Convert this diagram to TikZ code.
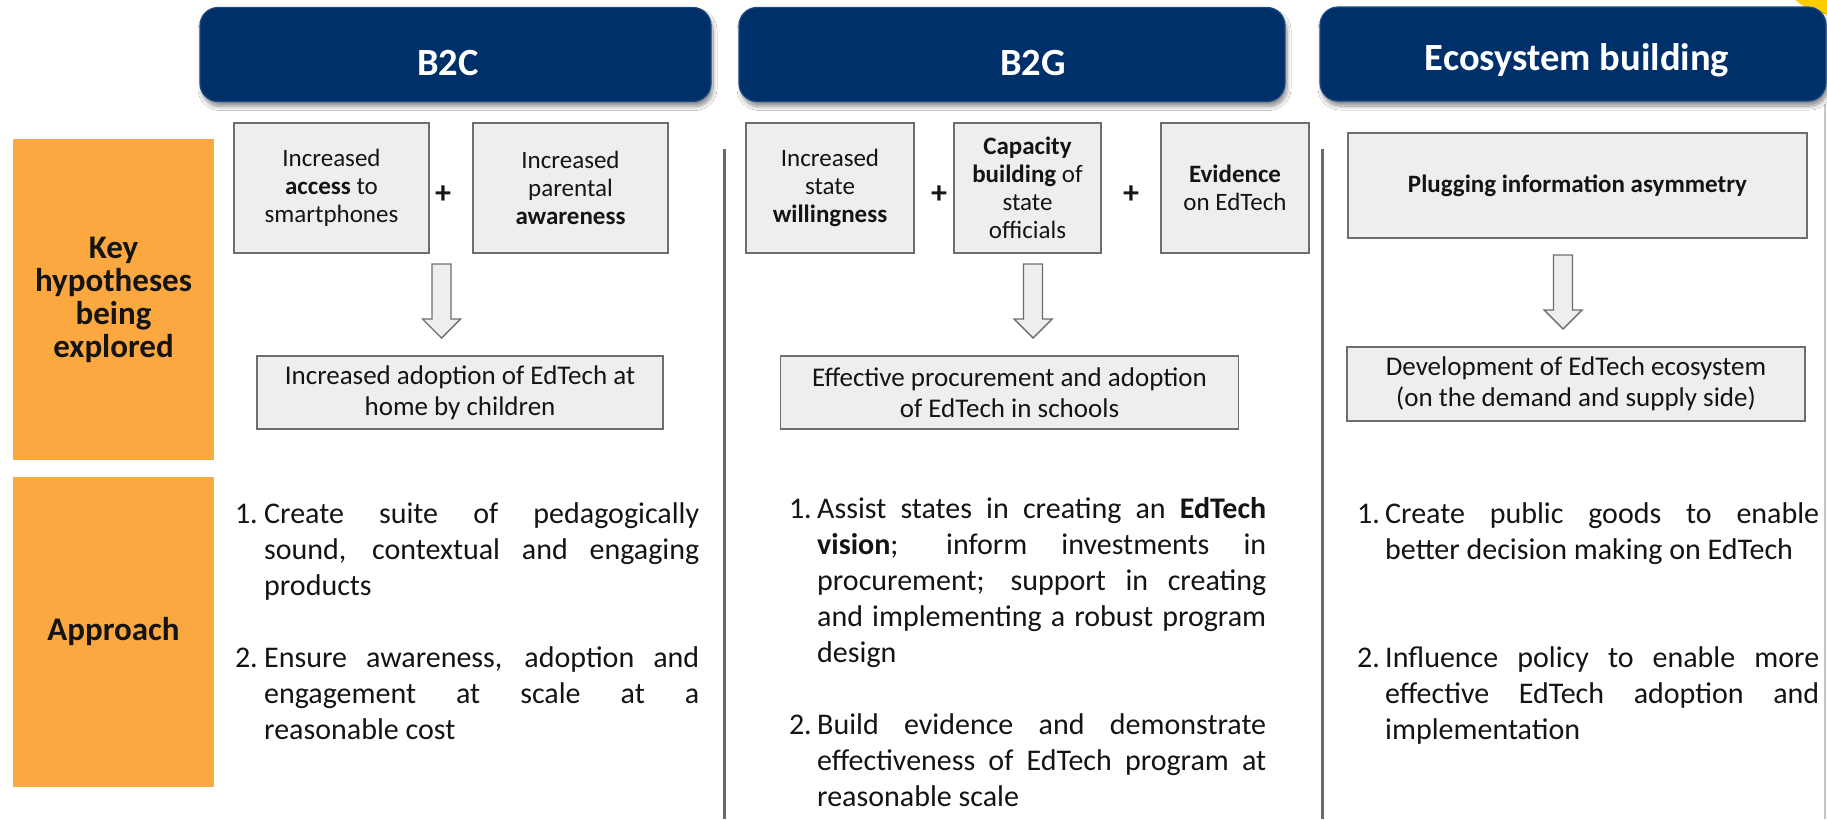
\documentclass[tikz,border=0pt]{standalone}
\usepackage{fontspec}
\setmainfont{Carlito}
\usetikzlibrary{shadows.blur}

\definecolor{navy}{HTML}{003069}
\definecolor{navyedge}{HTML}{1B4A85}
\definecolor{orangebg}{HTML}{FCA841}
\definecolor{boxgrey}{HTML}{EEEEEE}
\definecolor{boxline}{HTML}{6E6E6E}
\definecolor{divgrey}{HTML}{6A6A6A}
\definecolor{edgegrey}{HTML}{C4C4C4}
\definecolor{sunyellow}{HTML}{FFCD00}
\definecolor{ink}{HTML}{141414}

\begin{document}
\begin{tikzpicture}[
  x=1pt, y=-1pt,
  every node/.style={text=ink},
  header/.style={fill=navy, draw=navyedge, line width=1.2pt, rounded corners=18pt,
    inner sep=0pt, minimum height=94pt,
    blur shadow={shadow xshift=2pt, shadow yshift=-5pt, shadow blur radius=4pt,
      shadow blur steps=8, shadow opacity=45}},
  title/.style={text=white, inner sep=0pt, anchor=base,
    font=\fontsize{38.5}{44}\bfseries\selectfont},
  sidelabel/.style={fill=orangebg, inner sep=0pt, minimum width=201pt, align=center,
    font=\fontsize{33}{33}\bfseries\selectfont},
  hypbox/.style={fill=boxgrey, draw=boxline, line width=1.5pt, inner sep=0pt,
    align=center, minimum height=130pt, font=\fontsize{25}{28}\selectfont},
  outbox/.style={hypbox, minimum height=73pt, font=\fontsize{27}{31}\selectfont},
  plussign/.style={inner sep=0pt, font=\fontsize{32}{32}\bfseries\selectfont},
  listtext/.style={inner sep=0pt, anchor=base west, align=justify,
    font=\fontsize{30}{36}\selectfont},
  listnum/.style={inner sep=0pt, anchor=base east, font=\fontsize{30}{36}\selectfont},
  divider/.style={draw=divgrey, line width=3pt},
  arrowline/.style={draw=boxline, fill=boxgrey, line width=1.4pt, line join=miter},
  blockdown/.pic={
    \path[arrowline] (-9.5,0) -- (-9.5,55) -- (-19,55) -- (0,74) -- (19,55)
      -- (9.5,55) -- (9.5,0) -- cycle;
  }
]
\useasboundingbox (0,0) rectangle (1827,819);
\fill[white] (0,0) rectangle (1827,819);

% corner accent behind the last header
\fill[sunyellow] (1835,-45) circle[radius=60pt];

% thin frame line on the right edge
\coordinate (edgetop) at (1825,104);
\coordinate (edgebot) at (1825,819);
\draw[edgegrey, line width=2pt] (edgetop) -- (edgebot);

% column headers
\node[header, minimum width=511pt] (hb2c) at (455.5,54.5) {};
\node[header, minimum width=546pt] (hb2g) at (1012,54.5) {};
\node[header, minimum width=506pt] (heco) at (1573,54) {};
\node[title] (tb2c) at (448,75) {B2C};
\node[title] (tb2g) at (1033,75) {B2G};
\node[title] (teco) at (1577,70) {Ecosystem building};

% row labels
\node[sidelabel, minimum height=321pt] (lkey) at (113.5,299.5)
  {Key\\hypotheses\\being\\explored};
\node[sidelabel, minimum height=310pt] (lapp) at (113.5,632) {Approach};

% column dividers
\coordinate (d1top) at (724,149);
\coordinate (d1bot) at (724,819);
\coordinate (d2top) at (1322,149);
\coordinate (d2bot) at (1322,819);
\draw[divider] (d1top) -- (d1bot);
\draw[divider] (d2top) -- (d2bot);

% B2C hypotheses
\node[hypbox, minimum width=195pt] (c1) at (331.5,188) {Increased\\\textbf{access} to\\smartphones};
\node[hypbox, minimum width=195pt] (c2) at (570.5,188) {Increased\\parental\\\textbf{awareness}};
\node[plussign] (cp) at (443,195) {+};
\pic (ca) at (441.5,264) {blockdown};
\node[outbox, minimum width=406pt] (cr) at (460,392.5) {Increased adoption of EdTech at\\home by children};

% B2G hypotheses
\node[hypbox, minimum width=168pt] (g1) at (830,188) {Increased\\state\\\textbf{willingness}};
\node[hypbox, minimum width=147pt] (g2) at (1027.5,188) {\textbf{Capacity}\\\textbf{building} of\\state\\officials};
\node[hypbox, minimum width=148pt] (g3) at (1235,188) {\textbf{Evidence}\\on EdTech};
\node[plussign] (gp1) at (939,195) {+};
\node[plussign] (gp2) at (1131,195) {+};
\pic (ga) at (1033,264) {blockdown};
\node[outbox, minimum width=458pt] (gr) at (1009.5,392.5) {Effective procurement and adoption\\of EdTech in schools};

% Ecosystem hypotheses
\node[hypbox, minimum width=459pt, minimum height=105pt] (e1) at (1577.5,185.5) {\textbf{Plugging information asymmetry}};
\pic (ea) at (1563,255) {blockdown};
\node[outbox, minimum width=458pt, minimum height=74pt] (er) at (1576,384) {Development of EdTech ecosystem\\(on the demand and supply side)};

% B2C approach
\node[listnum] (cn1) at (258,523) {1.};
\node[listtext, text width=435pt] (ct1) at (264,523)
  {Create suite of pedagogically\linebreak sound, contextual and engaging\linebreak products};
\node[listnum] (cn2) at (258,667) {2.};
\node[listtext, text width=435pt] (ct2) at (264,667)
  {Ensure awareness, adoption and\linebreak engagement at scale at a\linebreak reasonable cost};

% B2G approach
\node[listnum] (gn1) at (812,518) {1.};
\node[listtext, text width=449pt] (gt1) at (817,518)
  {Assist states in creating an \textbf{EdTech}\linebreak \textbf{vision}; inform investments in\linebreak procurement; support in creating\linebreak and implementing a robust program\linebreak design};
\node[listnum] (gn2) at (812,734) {2.};
\node[listtext, text width=449pt] (gt2) at (817,734)
  {Build evidence and demonstrate\linebreak effectiveness of EdTech program at\linebreak reasonable scale};

% Ecosystem approach
\node[listnum] (en1) at (1380,523) {1.};
\node[listtext, text width=434pt] (et1) at (1385,523)
  {Create public goods to enable\linebreak better decision making on EdTech};
\node[listnum] (en2) at (1380,667) {2.};
\node[listtext, text width=434pt] (et2) at (1385,667)
  {Influence policy to enable more\linebreak effective EdTech adoption and\linebreak implementation};
\end{tikzpicture}
\end{document}
